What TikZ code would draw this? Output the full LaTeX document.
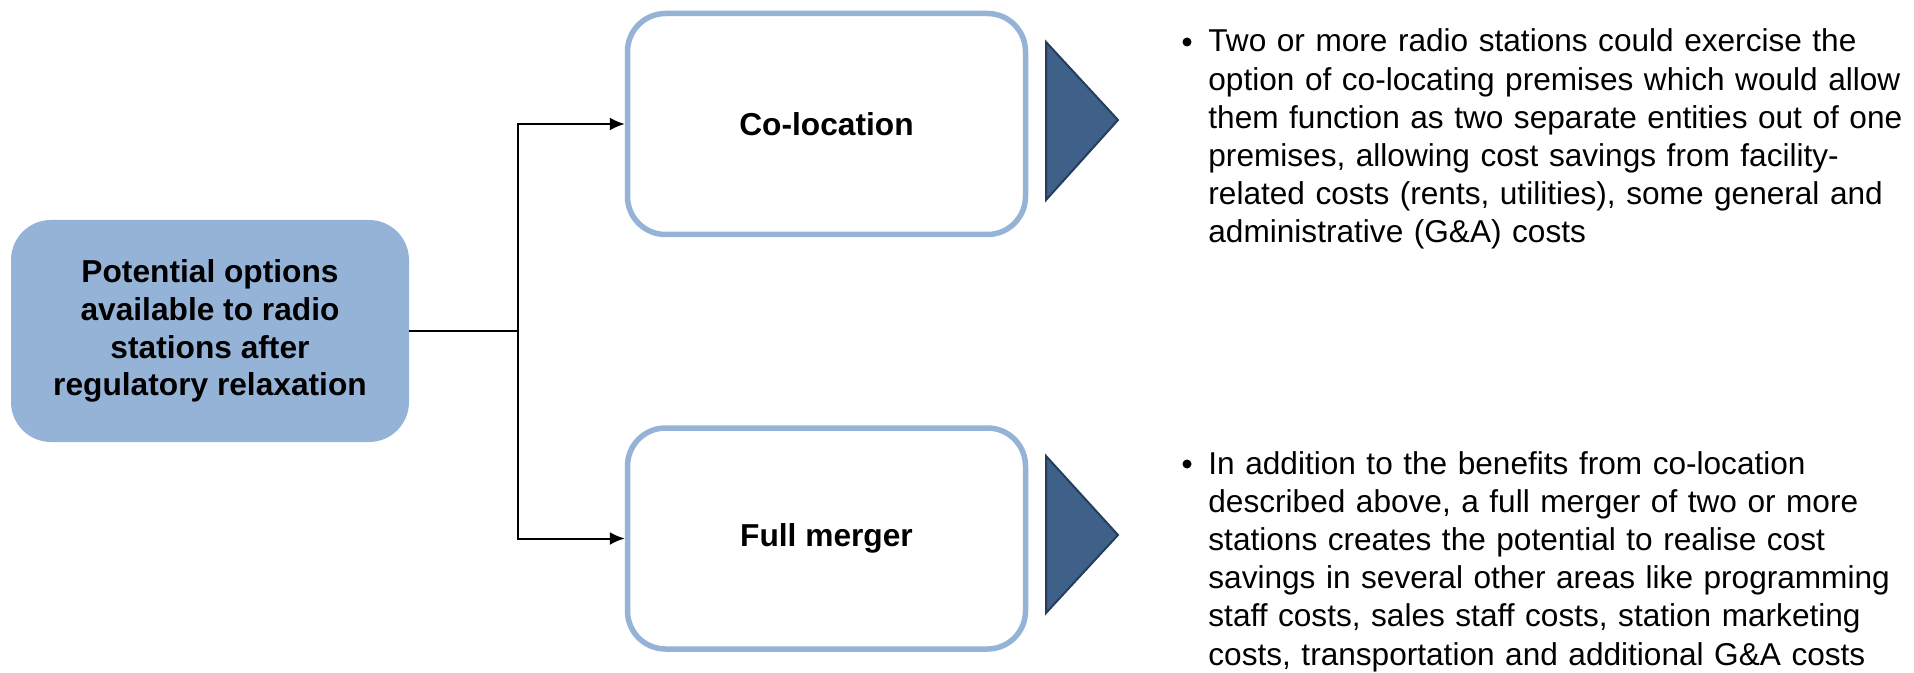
\documentclass[tikz,border=0pt]{standalone}
\usepackage{fontspec}
\setmainfont{Liberation Sans}
\usetikzlibrary{arrows.meta}
\usetikzlibrary{positioning}

\definecolor{boxblue}{RGB}{149,179,215}
\definecolor{tipblue}{RGB}{62,96,137}
\definecolor{tipedge}{RGB}{38,62,92}

\begin{document}
\begin{tikzpicture}[x=0.5pt, y=-0.5pt,
    rootbox/.style={fill=boxblue, rounded corners=20pt, minimum width=199pt, minimum height=111pt,
      align=center, font=\bfseries\fontsize{15.85pt}{18.9pt}\selectfont},
    optionbox/.style={draw=boxblue, line width=2.75pt, fill=white, rounded corners=19pt,
      minimum width=199pt, minimum height=110.5pt, font=\bfseries\fontsize{15.85pt}{19pt}\selectfont},
    pointer/.style={fill=tipblue, draw=tipedge, line width=1pt, line join=miter},
    link/.style={line width=1pt, -{Latex[length=7.5pt,width=6.5pt]}},
    bullettext/.style={anchor=base west, text width=350pt, align=left, inner sep=0pt,
      font=\fontsize{15.8pt}{19.1pt}\selectfont},
    bulletdot/.style={circle, fill=black, inner sep=0pt, minimum size=4.5pt}]
    \useasboundingbox (0,0) rectangle (1914,673);

    \node [rootbox] (root) at (210,331) {Potential options\\available to radio\\stations after\\regulatory relaxation};
    \node [optionbox] (colo) at (826.5,124) {Co-location};
    \node [optionbox] (merge) at (826.5,538.5) {Full merger};

    % split line from the root box to both options
    \draw [line width=1pt] (root.east) -- (518,331) coordinate (split);
    \draw [link] (split) |- (colo.west);
    \draw [link] (split) |- (merge.west);

    \draw [pointer] (1046,42) -- (1046,200) -- (1118,120) -- cycle;
    \draw [pointer] (1046,456) -- (1046,613) -- (1118,535) -- cycle;

    \node [bulletdot] (dot1) at (1187,42) {};
    \node [bullettext] (colotext) at (1208,52) {Two or more radio stations could exercise the\\
      option of co-locating premises which would allow\\
      them function as two separate entities out of one\\
      premises, allowing cost savings from facility-\\
      related costs (rents, utilities), some general and\\
      administrative (G\&A) costs};

    \node [bulletdot] (dot2) at (1187,464) {};
    \node [bullettext] (mergetext) at (1208,474) {In addition to the benefits from co-location\\
      described above, a full merger of two or more\\
      stations creates the potential to realise cost\\
      savings in several other areas like programming\\
      staff costs, sales staff costs, station marketing\\
      costs, transportation and additional G\&A costs};
\end{tikzpicture}
\end{document}
